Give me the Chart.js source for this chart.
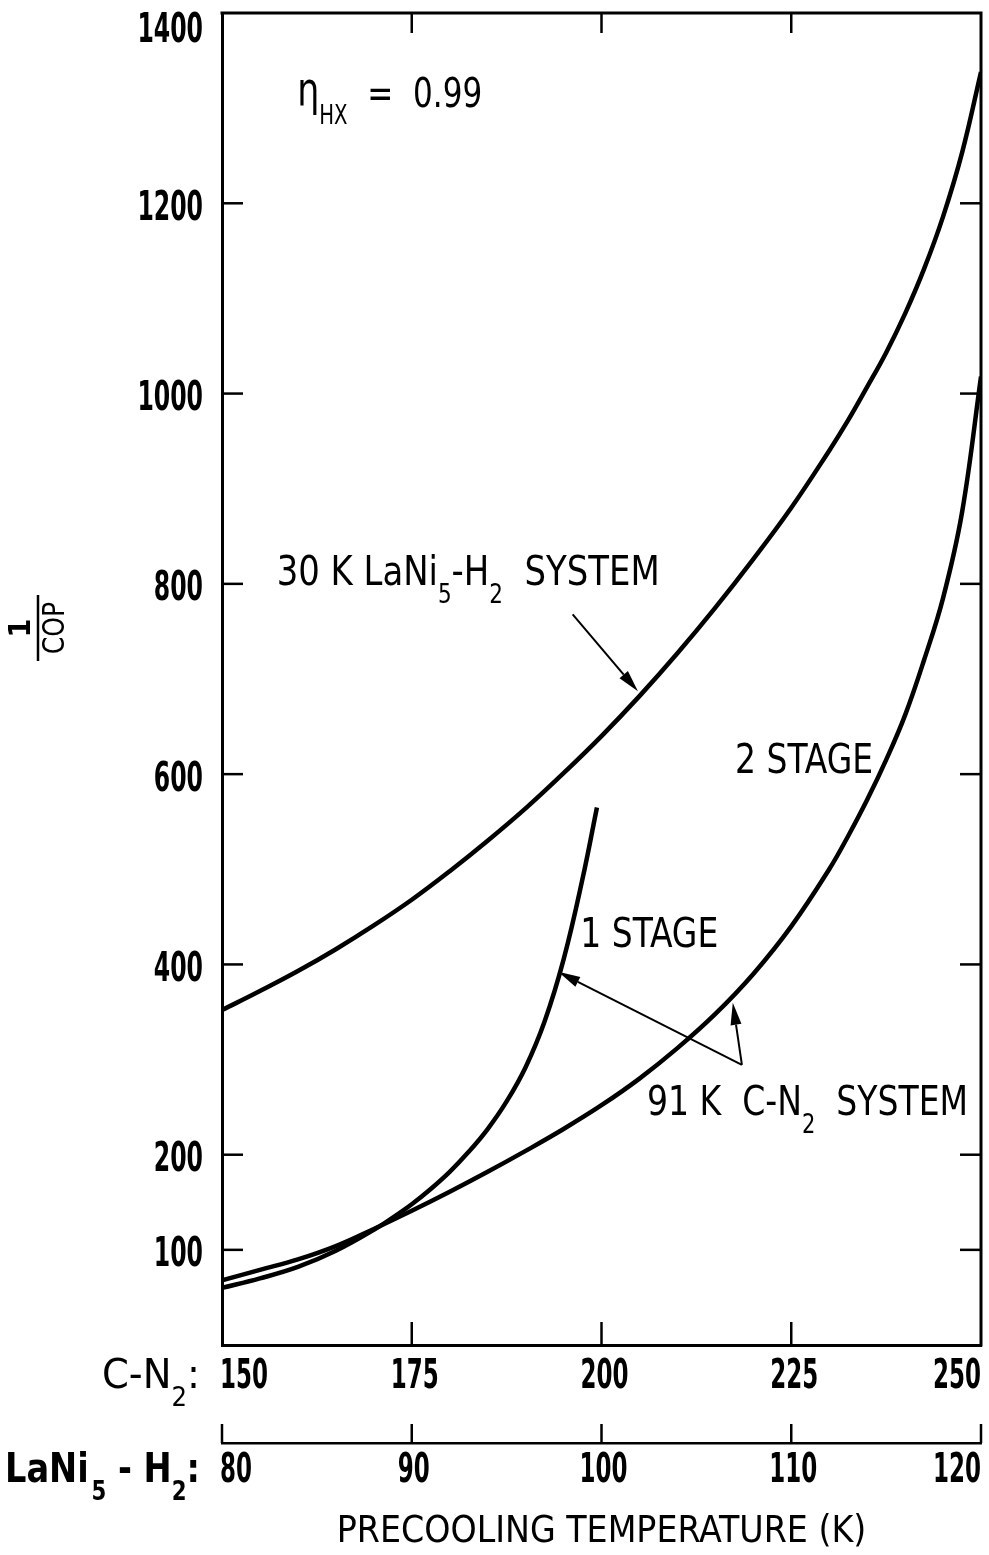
<!DOCTYPE html>
<html><head><meta charset="utf-8">
<script src="https://cdn.jsdelivr.net/npm/chart.js@4.4.1/dist/chart.umd.min.js"></script>
<style>html,body{margin:0;padding:0;background:#fff;}canvas{display:block;}</style>
</head><body>
<canvas id="c" width="989" height="1555"></canvas>
<script>
// ---------------- data (precooling temperature on the C-N2 scale, K) ----------------
const lani5Temps      = [150,155,160,165,170,175,180,185,190,195,200,205,210,215,220,225,230,232.5,235,237.5,240,242.5,245,247.5,250];
const lani5System30K  = [352,372,393,416,441,468,498,530,564,601,640,682,727,775,826,880,940,972,1007,1043,1084,1131,1186,1253,1338];

const twoStageTemps   = [150,155,160,165,170,175,180,185,190,195,200,205,210,215,220,225,230,232.5,235,237.5,240,242.5,245,247.5,250];
const cn2TwoStage     = [68,79,90,104,122,141,161,182,204,227,252,280,312,348,390,440,500,535,573,615,662,720,785,875,1018];

const oneStageTemps   = [150,155,160,165,170,172.5,175,177.5,180,182.5,185,187.5,190,192.5,195,197.5,199.4];
const cn2OneStage     = [60,70,82,99,121,134,148,164,182,203,227,256,292,340,405,490,565];

const yTickValues     = [100,200,400,600,800,1000,1200,1400];
const cn2TickValues   = [150,175,200,225,250];
const lani5TickValues = [80,90,100,110,120];

const FONT = '"Liberation Sans Narrow","DejaVu Sans Condensed","DejaVu Sans","Liberation Sans",sans-serif';

function pts(xs, ys){ return xs.map((x,i)=>({x:x, y:ys[i]})); }
function lineDs(label, xs, ys){
  return {label, data:pts(xs,ys), showLine:true, borderColor:'#000', borderWidth:4.5,
          pointRadius:0, tension:0.4, fill:false};
}

// annotation layout (anchors in data coordinates)
const notes = [
  {parts:[{t:'30 K LaNi'},{t:'5',sub:1},{t:'-H'},{t:'2',sub:1},{t:'  SYSTEM'}], at:[157.2,799], w:383},
  {parts:[{t:'2 STAGE'}], at:[217.6,601.5], w:138},
  {parts:[{t:'1 STAGE'}], at:[197.2,418.5], w:138},
  {parts:[{t:'91 K  C-N'},{t:'2',sub:1},{t:'  SYSTEM'}], at:[206,241.9], w:321},
  {parts:[{t:'\u03b7',size:46,dy:-2},{t:'HX',sub:1,dy:17},{t:'  = '},{t:' 0.99'}], at:[159.9,1301], w:185}
];
const arrows = [
  {from:[196.2,768], to:[204.8,687]},
  {from:[218.5,294.4], to:[194.3,392.2]},
  {from:[218.5,294.4], to:[217.3,359.6]}
];

function drawRich(ctx, parts, x, y, w, size, weight){
  const subSize = Math.round(size*0.64);
  const fontOf = p => (weight||'normal')+' '+(p.size || (p.sub?subSize:size))+'px '+FONT;
  let total = 0;
  parts.forEach(p=>{ ctx.font = fontOf(p); p._w = ctx.measureText(p.t).width + (p.gap||0); total += p._w; });
  const sx = w ? w/total : 1;
  ctx.save();
  ctx.translate(x,y); ctx.scale(sx,1);
  ctx.textBaseline='alphabetic'; ctx.textAlign='left';
  let cx = 0;
  parts.forEach(p=>{
    ctx.font = fontOf(p);
    ctx.fillText(p.t, cx + (p.gap||0), p.sub ? (p.dy||18) : (p.dy||0));
    cx += p._w;
  });
  ctx.restore();
}
// condensed numeric label: digitW = target width of one digit
function drawNum(ctx, txt, x, baseline, align, size, digitW){
  ctx.save();
  ctx.font = 'bold '+size+'px '+FONT;
  const nat = ctx.measureText(txt).width;
  const sx = (digitW*txt.length)/nat;
  const w = nat*sx;
  let left = align==='left' ? x : align==='right' ? x-w : x-w/2;
  ctx.translate(left, baseline); ctx.scale(sx,1);
  ctx.textAlign='left'; ctx.textBaseline='alphabetic';
  ctx.fillText(txt,0,0);
  ctx.restore();
}
function seg(ctx,x1,y1,x2,y2){ctx.beginPath();ctx.moveTo(x1,y1);ctx.lineTo(x2,y2);ctx.stroke();}
function arrow(ctx,x1,y1,x2,y2){
  const ang=Math.atan2(y2-y1,x2-x1), L=22, W=5.5;
  const bx=x2-L*Math.cos(ang), by=y2-L*Math.sin(ang);
  ctx.lineWidth=2; seg(ctx,x1,y1,bx,by);
  ctx.beginPath(); ctx.moveTo(x2,y2);
  ctx.lineTo(bx+W*Math.sin(ang), by-W*Math.cos(ang));
  ctx.lineTo(bx-W*Math.sin(ang), by+W*Math.cos(ang));
  ctx.closePath(); ctx.fill();
}

const decor = {
  id:'decor',
  beforeDraw(chart){const c=chart.ctx;c.save();c.fillStyle='#fff';c.fillRect(0,0,chart.width,chart.height);c.restore();},
  afterDraw(chart){
    const ctx=chart.ctx, xs=chart.scales.x, x2=chart.scales.x2, ys=chart.scales.y, a=chart.chartArea;
    const X=v=>xs.getPixelForValue(v), Y=v=>ys.getPixelForValue(v);
    ctx.save(); ctx.strokeStyle='#000'; ctx.fillStyle='#000';
    // top & right frame
    ctx.lineWidth=3;
    ctx.beginPath(); ctx.moveTo(a.left-1.5,a.top); ctx.lineTo(a.right,a.top); ctx.lineTo(a.right,a.bottom+1.5); ctx.stroke();
    // inward tick marks
    ctx.lineWidth=2.5;
    ys.ticks.forEach(t=>{ if(t.value>=1400) return; const py=Y(t.value); seg(ctx,a.left,py,a.left+21,py); seg(ctx,a.right,py,a.right-21,py); });
    xs.ticks.forEach(t=>{ if(t.value<=150||t.value>=250) return; const px=X(t.value); seg(ctx,px,a.bottom,px,a.bottom-23); seg(ctx,px,a.top,px,a.top+20); });
    x2.ticks.forEach(t=>{ const px=x2.getPixelForValue(t.value); seg(ctx,px,x2.top,px,x2.top-19); });
    // tick labels (from the scales' ticks)
    const capH = 29;
    ys.ticks.forEach(t=>{
      let cy = Y(t.value)+2;
      if (cy - capH/2 < a.top) cy = a.top + capH/2;
      drawNum(ctx, String(t.value), a.left-19, cy+capH/2, 'right', 40, 16.4);
    });
    const nX = xs.ticks.length;
    xs.ticks.forEach((t,i)=>{
      const px=X(t.value), al = i===0?'left':(i===nX-1?'right':'center');
      drawNum(ctx, String(t.value), al==='center'?px+3:(al==='left'?px-2:px), xs.top+43, al, 41, 16);
    });
    const n2 = x2.ticks.length;
    x2.ticks.forEach((t,i)=>{
      const px=x2.getPixelForValue(t.value), al = i===0?'left':(i===n2-1?'right':'center');
      drawNum(ctx, String(t.value), al==='center'?px+2:(al==='left'?px-2:px), x2.top+39, al, 41, 16);
    });
    // annotations
    notes.forEach(n=>drawRich(ctx,n.parts,X(n.at[0]),Y(n.at[1]),n.w,41,'normal'));
    arrows.forEach(r=>arrow(ctx,X(r.from[0]),Y(r.from[1]),X(r.to[0]),Y(r.to[1])));
    // axis name prefixes
    drawRich(ctx,[{t:'C-N'},{t:'2',sub:1},{t:':'}],102,xs.top+43,98,41,'normal');
    drawRich(ctx,[{t:'LaNi'},{t:'5',sub:1,gap:3},{t:' - H'},{t:'2',sub:1},{t:':'}],5,x2.top+39,195,41,'bold');
    // y title 1/COP (rotated fraction)
    ctx.save();
    ctx.translate(38,628); ctx.rotate(-Math.PI/2);
    ctx.textAlign='center'; ctx.textBaseline='alphabetic';
    ctx.font='bold 30px '+FONT; ctx.fillText('1',0,-8);
    ctx.lineWidth=2.5; seg(ctx,-33,0,33,0);
    ctx.font='normal 31px '+FONT;
    ctx.save(); ctx.scale(0.9,1); ctx.fillText('COP',0,26); ctx.restore();
    ctx.restore();
    ctx.restore();
  }
};

new Chart(document.getElementById('c'), {
  type:'scatter',
  data:{datasets:[
    lineDs('30 K LaNi5-H2 system', lani5Temps, lani5System30K),
    lineDs('91 K C-N2 system, 2 stage', twoStageTemps, cn2TwoStage),
    lineDs('91 K C-N2 system, 1 stage', oneStageTemps, cn2OneStage)
  ]},
  options:{
    responsive:false, animation:false, devicePixelRatio:1,
    layout:{padding:{left:0,right:8,top:13,bottom:0}},
    plugins:{legend:{display:false}, tooltip:{enabled:false}},
    scales:{
      x:{type:'linear', position:'bottom', weight:0, min:150, max:250,
         afterBuildTicks:s=>{s.ticks=cn2TickValues.map(v=>({value:v}));},
         afterFit:s=>{s.height=98; s.paddingLeft=0; s.paddingRight=0;},
         ticks:{display:false},
         grid:{drawOnChartArea:false, drawTicks:false},
         border:{display:true, color:'#000', width:3}},
      x2:{type:'linear', position:'bottom', weight:1, min:80, max:120,
         afterBuildTicks:s=>{s.ticks=lani5TickValues.map(v=>({value:v}));},
         afterFit:s=>{s.height=112; s.paddingLeft=0; s.paddingRight=0;},
         ticks:{display:false},
         grid:{drawOnChartArea:false, drawTicks:false},
         border:{display:true, color:'#000', width:2.5},
         title:{display:true, text:'PRECOOLING TEMPERATURE (K)', color:'#000',
                font:{family:FONT, size:37, weight:'normal'}, padding:{top:0,bottom:0}}},
      y:{type:'linear', position:'left', min:0, max:1400,
         afterBuildTicks:s=>{s.ticks=yTickValues.map(v=>({value:v}));},
         afterFit:s=>{s.width=222; s.paddingTop=0; s.paddingBottom=0;},
         ticks:{display:false},
         grid:{drawOnChartArea:false, drawTicks:false},
         border:{display:true, color:'#000', width:3}}
    }
  },
  plugins:[decor]
});
</script>
</body></html>
